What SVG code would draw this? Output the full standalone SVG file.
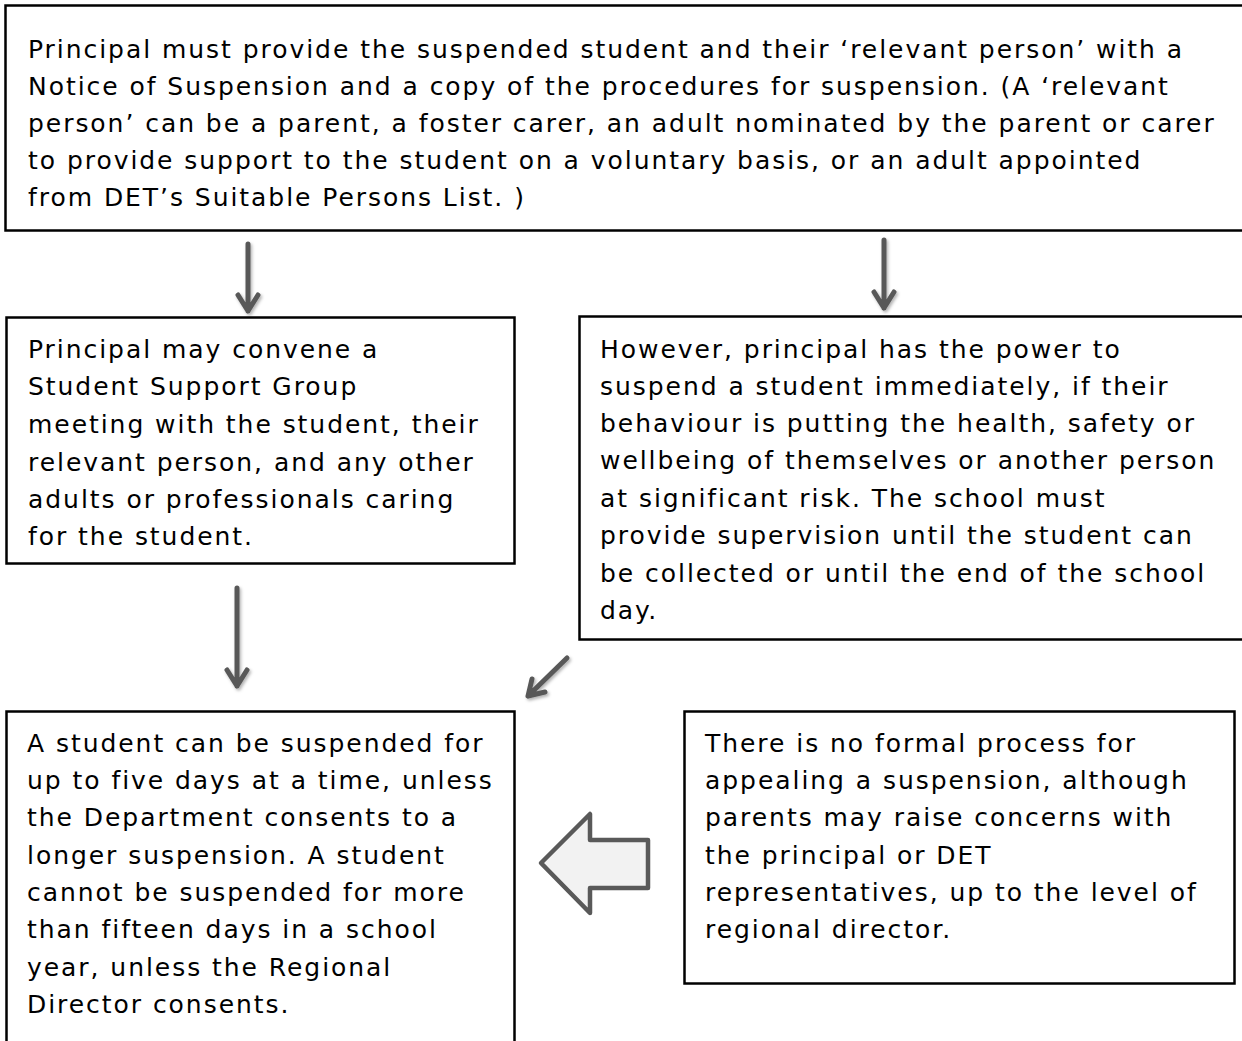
<svg xmlns="http://www.w3.org/2000/svg" width="1242" height="1041" viewBox="0 0 1242 1041">
<defs>
<style>
.box{fill:#fff;stroke:#000;stroke-width:2.5}
.t{font-family:"DejaVu Sans","Open Sans",sans-serif;font-size:25px;letter-spacing:1.95px;fill:#000}
.arr{fill:none;stroke:#595959;stroke-width:5;stroke-linecap:round;stroke-linejoin:round}
</style>
<filter id="sh" x="-50%" y="-50%" width="200%" height="200%">
<feDropShadow dx="1.5" dy="2" stdDeviation="1.5" flood-color="#000" flood-opacity="0.3"/>
</filter>
</defs>
<rect width="1242" height="1041" fill="#fff"/>
<g id="n1">
<rect class="box" x="5.5" y="5.5" width="1245" height="225"/>
<text class="t" x="28" y="58">Principal must provide the suspended student and their ‘relevant person’ with a</text>
<text class="t" x="28" y="95">Notice of Suspension and a copy of the procedures for suspension. (A ‘relevant</text>
<text class="t" x="28" y="132">person’ can be a parent, a foster carer, an adult nominated by the parent or carer</text>
<text class="t" x="28" y="169">to provide support to the student on a voluntary basis, or an adult appointed</text>
<text class="t" x="28" y="206">from DET’s Suitable Persons List. )</text>
</g>
<g id="n2">
<rect class="box" x="6.5" y="317.5" width="508" height="246"/>
<text class="t" x="28" y="358">Principal may convene a</text>
<text class="t" x="28" y="395">Student Support Group</text>
<text class="t" x="28" y="433">meeting with the student, their</text>
<text class="t" x="28" y="471">relevant person, and any other</text>
<text class="t" x="28" y="508">adults or professionals caring</text>
<text class="t" x="28" y="545">for the student.</text>
</g>
<g id="n3">
<rect class="box" x="579.5" y="316.5" width="680" height="323"/>
<text class="t" x="600" y="358">However, principal has the power to</text>
<text class="t" x="600" y="395">suspend a student immediately, if their</text>
<text class="t" x="600" y="432">behaviour is putting the health, safety or</text>
<text class="t" x="600" y="469">wellbeing of themselves or another person</text>
<text class="t" x="600" y="507">at significant risk. The school must</text>
<text class="t" x="600" y="544">provide supervision until the student can</text>
<text class="t" x="600" y="582">be collected or until the end of the school</text>
<text class="t" x="600" y="619">day.</text>
</g>
<g id="n4">
<rect class="box" x="6.5" y="711.5" width="508" height="340"/>
<text class="t" x="27" y="752">A student can be suspended for</text>
<text class="t" x="27" y="789">up to five days at a time, unless</text>
<text class="t" x="27" y="826">the Department consents to a</text>
<text class="t" x="27" y="864">longer suspension. A student</text>
<text class="t" x="27" y="901">cannot be suspended for more</text>
<text class="t" x="27" y="938">than fifteen days in a school</text>
<text class="t" x="27" y="976">year, unless the Regional</text>
<text class="t" x="27" y="1013">Director consents.</text>
</g>
<g id="n5">
<rect class="box" x="684.5" y="711.5" width="550" height="272"/>
<text class="t" x="705" y="752">There is no formal process for</text>
<text class="t" x="705" y="789">appealing a suspension, although</text>
<text class="t" x="705" y="826">parents may raise concerns with</text>
<text class="t" x="705" y="864">the principal or DET</text>
<text class="t" x="705" y="901">representatives, up to the level of</text>
<text class="t" x="705" y="938">regional director.</text>
</g>
<g id="connectors">
<g filter="url(#sh)">
<path class="arr" d="M248,244 V311 M238,295 L248,311 L258,295"/>
<path class="arr" d="M884,240 V308 M874,292 L884,308 L894,292"/>
<path class="arr" d="M237,588 V686 M227,670 L237,686 L247,670"/>
<path class="arr" d="M567,658 L528,696 M532,679 L528,696 L545,692"/>
</g>
<path d="M541,863 L590,814 L590,840 L648,840 L648,888 L590,888 L590,913 Z" fill="#f2f2f2" stroke="#595959" stroke-width="4.5" stroke-linejoin="round"/>
</g>
</svg>
